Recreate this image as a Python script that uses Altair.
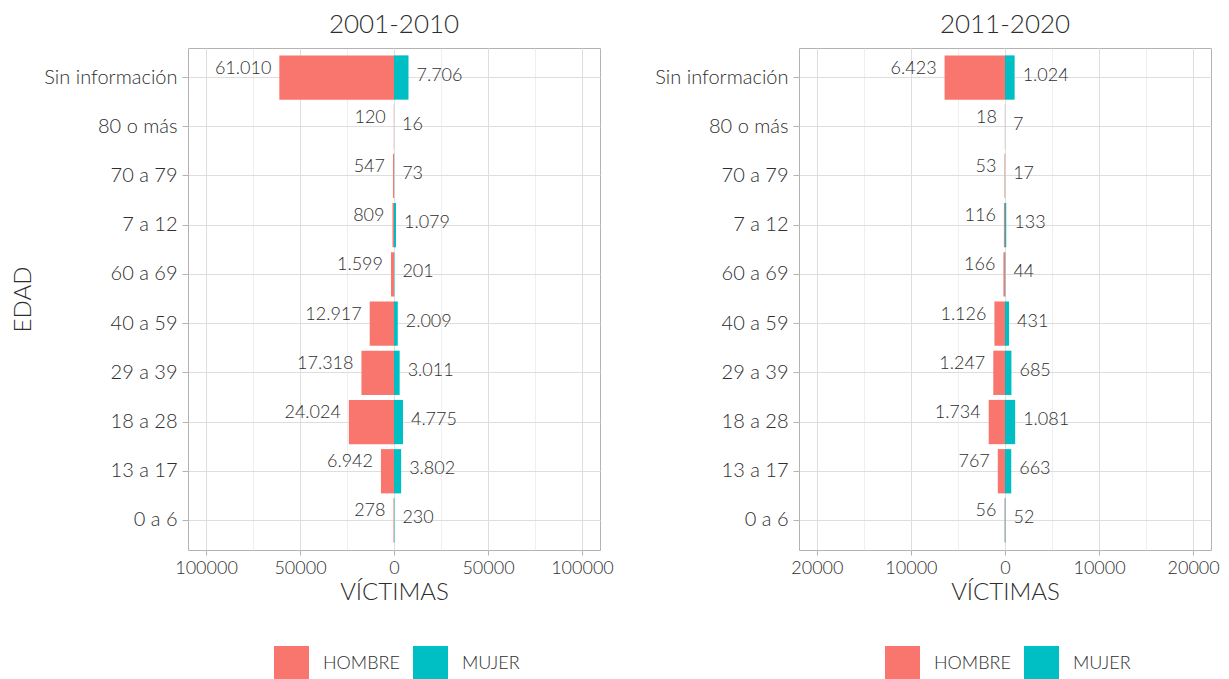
import altair as alt
import pandas as pd

edades = ["Sin información", "80 o más", "70 a 79", "7 a 12", "60 a 69",
          "40 a 59", "29 a 39", "18 a 28", "13 a 17", "0 a 6"]
hombre_2001 = [61010, 120, 547, 809, 1599, 12917, 17318, 24024, 6942, 278]
mujer_2001 = [7706, 16, 73, 1079, 201, 2009, 3011, 4775, 3802, 230]
hombre_2011 = [6423, 18, 53, 116, 166, 1126, 1247, 1734, 767, 56]
mujer_2011 = [1024, 7, 17, 133, 44, 431, 685, 1081, 663, 52]

FONT = "Lato"
W = 300
GRAY = "#2E2E2E"
COLORS = ["#F8766D", "#00BFC4"]


def fmt(v):
    return f"{v:,}".replace(",", ".")


def build_df(h, m):
    rows = []
    for e, mv in zip(edades, m):
        rows.append({"EDAD": e, "SEXO": "MUJER", "valor": mv, "etiqueta": fmt(mv)})
    for e, hv in zip(edades, h):
        rows.append({"EDAD": e, "SEXO": "HOMBRE", "valor": -hv, "etiqueta": fmt(hv)})
    return pd.DataFrame(rows)


def panel(df, title, lim, step, major, ytitle):
    vals = list(range(-lim + (lim % step), lim + 1, step))
    is_major = f"abs(datum.value) % {major} === 0"
    xaxis = alt.Axis(
        values=vals,
        labelExpr=f"{is_major} ? format(abs(datum.value), 'd') : ''",
        gridWidth={"condition": {"test": is_major, "value": 1}, "value": 0.5},
        tickOpacity={"condition": {"test": is_major, "value": 1}, "value": 0},
        tickSize=5, labelPadding=4, titlePadding=3, labelFontSize=18,
        domain=False, title="VÍCTIMAS",
    )
    yaxis_kwargs = dict(
        bandPosition=0.5, grid=True, domain=False, tickSize=6, labelPadding=5,
        labelFontSize=20, minExtent=145, maxExtent=145, titlePadding=8,
    )
    if ytitle:
        yaxis = alt.Axis(title="EDAD", **yaxis_kwargs)
    else:
        yaxis = alt.Axis(title=None, **yaxis_kwargs)

    x = alt.X("valor:Q", axis=xaxis,
              scale=alt.Scale(domain=[-lim, lim], nice=False, zero=False))
    y = alt.Y("EDAD:N", axis=yaxis,
              scale=alt.Scale(domain=edades, paddingInner=0.1, paddingOuter=0.15))
    color = alt.Color(
        "SEXO:N",
        scale=alt.Scale(domain=["HOMBRE", "MUJER"], range=COLORS),
        legend=alt.Legend(
            orient="none", legendX=86, legendY=598, direction="horizontal",
            title=None, symbolType="square", symbolSize=1225, symbolStrokeWidth=0,
            symbolOpacity=1, labelFontSize=18, labelFont=FONT, labelFontWeight=W,
            labelColor=GRAY, labelOffset=14, columnPadding=13, padding=0,
        ),
    )
    base = alt.Chart(df)
    bars = base.mark_bar(opacity=1).encode(x=x, y=y, color=color)
    txt_h = base.transform_filter(alt.datum.SEXO == "HOMBRE").mark_text(
        align="right", dx=-8, dy=-9, fontSize=18, font=FONT, fontWeight=W, color=GRAY
    ).encode(x="valor:Q", y="EDAD:N", text="etiqueta:N")
    txt_m = base.transform_filter(alt.datum.SEXO == "MUJER").mark_text(
        align="left", dx=8, dy=-2, fontSize=18, font=FONT, fontWeight=W, color=GRAY
    ).encode(x="valor:Q", y="EDAD:N", text="etiqueta:N")
    return alt.layer(bars, txt_h, txt_m).properties(
        width=412, height=502,
        title=alt.TitleParams(title, fontSize=26, font=FONT, color=GRAY,
                              fontWeight=W, anchor="middle", offset=10),
    )


left = panel(build_df(hombre_2001, mujer_2001), "2001-2010", 109600, 25000, 50000, True)
right = panel(build_df(hombre_2011, mujer_2011), "2011-2020", 21900, 5000, 10000, False)

chart = alt.hconcat(left, right, spacing=199, bounds="flush").resolve_legend(
    color="independent"
).properties(
    padding={"left": 2, "top": 3, "right": 0, "bottom": 0}
).configure_view(
    stroke="#B3B3B3", strokeWidth=1
).configure_axis(
    labelFont=FONT, titleFont=FONT, titleFontSize=24,
    labelFontWeight=W, titleFontWeight=W,
    labelColor=GRAY, titleColor=GRAY,
    gridColor="#DEDEDE", tickColor="#B3B3B3", tickWidth=1,
)

chart.save("out.html", embed_options={"renderer": "svg", "actions": False})
